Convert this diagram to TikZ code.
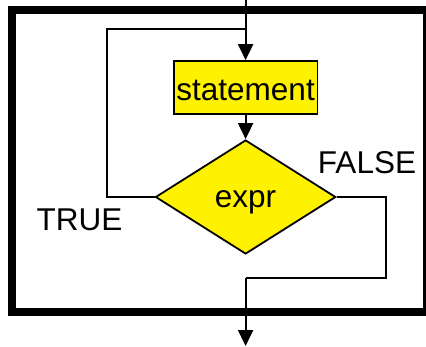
\documentclass[tikz,border=0pt]{standalone}
\usepackage{fontspec}
\setmainfont{Liberation Sans}
\usetikzlibrary{shapes.geometric,arrows.meta}
\begin{document}
\begin{tikzpicture}[x=1pt,y=-1pt,
  flow/.style={line width=2pt,draw=black},
  arr/.style={flow,-{Triangle[width=15pt,length=16pt]}},
  bigtext/.style={font=\fontsize{31.5}{36}\selectfont},
  block/.style={draw=black,line width=1.8pt,fill=yellow,inner sep=0pt,
    minimum width=143.6pt,minimum height=53.3pt,bigtext,
    text height=24.6pt,text depth=0pt},
  test/.style={diamond,draw=black,line width=1.8pt,fill=yellow,inner sep=0pt,
    minimum width=180.3pt,minimum height=114pt,bigtext,
    text height=20pt,text depth=0pt},
  lbl/.style={bigtext,inner sep=0pt,anchor=base}]
  \useasboundingbox (0,0) rectangle (426,346);
  % outer frame of the loop construct
  \draw[line width=8pt] (12,10) rectangle (427,311.7);
  % blocks
  \node[block] (stmt) at (245.6,87.7) {statement};
  \node[test] (expr) at (245.6,197) {expr};
  % points on the connectors
  \coordinate (entry) at (245.6,0);
  \coordinate (loopTL) at (106.7,29);
  \coordinate (loopJoin) at (245.6,29);
  \coordinate (falseR) at (385.7,277.7);
  \coordinate (falseJoin) at (245.6,277.7);
  \coordinate (exit) at (245.6,346);
  % connectors
  \draw[arr] (entry) -- (stmt.north);
  \draw[arr] (stmt.south) -- (expr.north);
  \draw[flow] (expr.west) -| (loopTL) -- (loopJoin);
  \draw[flow] (expr.east) -| (falseR) -- (falseJoin);
  \draw[arr] (falseJoin) -- (exit);
  % branch labels
  \node[lbl] (ltrue) at (79.5,230.5) {TRUE};
  \node[lbl] (lfalse) at (367,173.3) {FALSE};
\end{tikzpicture}
\end{document}
